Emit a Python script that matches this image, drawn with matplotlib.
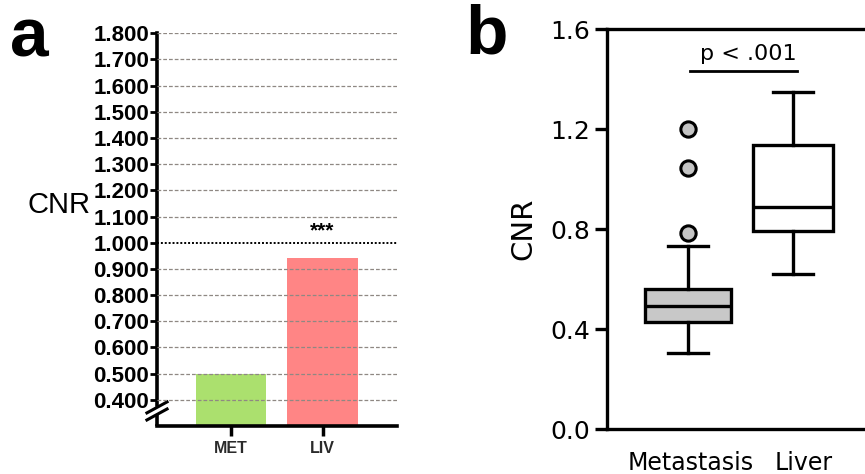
import matplotlib
matplotlib.use('Agg')
import matplotlib.pyplot as plt
import matplotlib.transforms as mtransforms

# panel a: mean CNR per group
bar_groups = ['MET', 'LIV']
bar_values = [0.500, 0.943]
bar_colors = ['#abe06e', '#ff8585']
a_ticks = [0.4, 0.5, 0.6, 0.7, 0.8, 0.9, 1.0, 1.1, 1.2, 1.3, 1.4, 1.5, 1.6, 1.7, 1.8]

# panel b: box summaries
box_groups = ['Metastasis', 'Liver']
box_whislo = [0.303, 0.620]
box_q1 = [0.430, 0.793]
box_med = [0.492, 0.890]
box_q3 = [0.562, 1.137]
box_whishi = [0.733, 1.348]
box_fliers = [[0.783, 1.046, 1.200], []]
box_fill = ['#c8c8c8', '#ffffff']
b_ticks = [0.0, 0.4, 0.8, 1.2, 1.6]

fig = plt.figure(figsize=(8.65, 4.74), dpi=100)

# ---------------- panel a ----------------
ax = fig.add_axes([0.1815, 0.1013, 0.2775, 0.8284])
lib = 'Liberation Sans'
xs = list(range(len(bar_groups)))
ax.bar(xs, bar_values, width=0.77, color=bar_colors, zorder=1)
for t in a_ticks:
    if abs(t - 1.0) < 1e-9:
        ax.axhline(t, color='black', lw=1.4, ls=(0, (1, 1)), zorder=3)
    else:
        ax.axhline(t, color='#8f8883', lw=0.9, ls=(0, (3, 1.6)), zorder=3)
ax.set_xlim(-0.809, 1.814)
ax.set_ylim(0.30, 1.80)
ax.set_yticks(a_ticks)
ax.set_yticklabels(['%.3f' % t for t in a_ticks], fontfamily=lib, fontweight='bold', fontsize=16)
ax.set_xticks(xs)
ax.set_xticklabels(bar_groups, fontfamily=lib, fontweight='bold', fontsize=11.5, color='#2a2a2a')
ax.tick_params(axis='y', length=5, width=2, pad=0.5)
ax.tick_params(axis='x', length=7, width=2.5, pad=3.5)
for s in ['top', 'right']:
    ax.spines[s].set_visible(False)
ax.spines['left'].set_linewidth(2.6)
ax.spines['bottom'].set_linewidth(2.6)
ax.spines['left'].set_bounds(0.38, 1.8)
trans = mtransforms.blended_transform_factory(ax.transAxes, ax.transData)
ax.plot([0, 0], [0.30, 0.343], transform=trans, color='black', lw=2.6, clip_on=False, solid_capstyle='butt')
ax.plot([-0.042, 0.042], [0.350, 0.392], transform=trans, color='black', lw=2.2, clip_on=False)
ax.plot([-0.042, 0.042], [0.323, 0.365], transform=trans, color='black', lw=2.2, clip_on=False)
ax.text(1, 1.008, '***', ha='center', va='bottom', fontsize=15, fontweight='bold', fontfamily=lib)

fig.text(0.068, 0.5675, 'CNR', ha='center', va='center', fontsize=21, fontfamily=lib)
fig.text(0.011, 0.880, 'a', ha='left', va='baseline', fontsize=50, fontweight='bold', fontfamily=lib)

# ---------------- panel b ----------------
bx = fig.add_axes([0.7014, 0.0949, 0.2986, 0.8433])
stats = []
for i in range(len(box_groups)):
    stats.append({'label': box_groups[i], 'whislo': box_whislo[i], 'q1': box_q1[i],
                  'med': box_med[i], 'q3': box_q3[i], 'whishi': box_whishi[i],
                  'fliers': box_fliers[i]})
lw = 2.4
parts = bx.bxp(stats, positions=[1, 2], widths=[0.82, 0.76], capwidths=[0.38, 0.38],
               patch_artist=True, showfliers=True,
               boxprops=dict(linewidth=lw, edgecolor='black'),
               medianprops=dict(color='black', linewidth=lw),
               whiskerprops=dict(color='black', linewidth=lw),
               capprops=dict(color='black', linewidth=lw),
               flierprops=dict(marker='o', markersize=11, markerfacecolor='#c4c4c4',
                               markeredgecolor='black', markeredgewidth=2.2))
for patch, c in zip(parts['boxes'], box_fill):
    patch.set_facecolor(c)
bx.set_xlim(0.226, 2.686)
bx.set_ylim(0, 1.6)
bx.set_yticks(b_ticks)
bx.set_yticklabels(['%.1f' % t for t in b_ticks], fontsize=18)
bx.set_xticks([1, 2])
bx.set_xticklabels(box_groups, fontsize=17)
bx.tick_params(axis='y', length=9, width=lw, pad=3)
bx.tick_params(axis='x', length=0, pad=16)
labels = bx.get_xticklabels()
labels[0].set_transform(labels[0].get_transform() + mtransforms.ScaledTranslation(3 / 100, 0, fig.dpi_scale_trans))
labels[1].set_transform(labels[1].get_transform() + mtransforms.ScaledTranslation(11 / 100, 0, fig.dpi_scale_trans))
bx.spines['right'].set_visible(False)
for s in ['left', 'bottom', 'top']:
    bx.spines[s].set_linewidth(lw)
bx.plot([1.02, 2.04], [1.433, 1.433], color='black', lw=2)
bx.text(1.57, 1.46, 'p < .001', ha='center', va='bottom', fontsize=16)

fig.text(523 / 865, 1 - 229 / 474, 'CNR', rotation=90, ha='center', va='center', fontsize=21)
fig.text(0.5376, 0.888, 'b', ha='left', va='baseline', fontsize=50, fontweight='bold', fontfamily=lib)

fig.savefig('out.png', dpi=100)
